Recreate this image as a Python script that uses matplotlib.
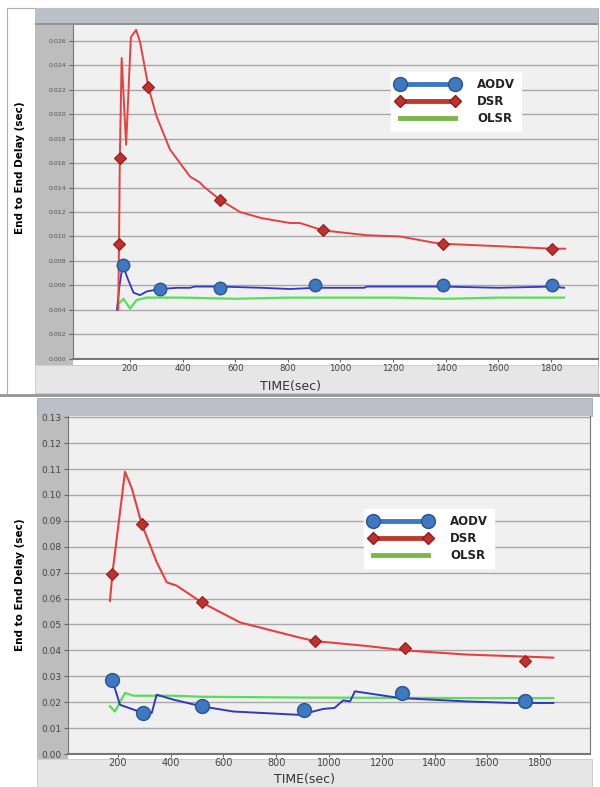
import matplotlib.pyplot as plt
import numpy as np
from matplotlib.patches import Rectangle
from matplotlib.lines import Line2D

# ---- top chart data (time in sec, delay in sec) ----
aodv_t1 = [150, 160, 172, 190, 213, 238, 263, 314, 380, 428, 445, 542, 700, 808, 903, 1000, 1090, 1100, 1391, 1600, 1803, 1850]
aodv_v1 = [0.0040, 0.0060, 0.0077, 0.0066, 0.0054, 0.0052, 0.0055, 0.0057, 0.0058, 0.0058, 0.0059, 0.0059, 0.0058, 0.0057, 0.0058, 0.0058, 0.0058, 0.0059, 0.0059, 0.0058, 0.0059, 0.0058]
aodv_mt1 = [172, 314, 542, 903, 1391, 1803]
aodv_mv1 = [0.0077, 0.0057, 0.0058, 0.0060, 0.0060, 0.0060]

dsr_t1 = [155, 158, 161, 168, 185, 203, 223, 238, 270, 301, 352, 428, 466, 479, 542, 618, 700, 808, 846, 933, 1100, 1226, 1353, 1391, 1606, 1803, 1854]
dsr_v1 = [0.0040, 0.0094, 0.0164, 0.0246, 0.0175, 0.0263, 0.0269, 0.0259, 0.0222, 0.0198, 0.0171, 0.0149, 0.0144, 0.0141, 0.0130, 0.0120, 0.0115, 0.0111, 0.0111, 0.0105, 0.0101, 0.0100, 0.0095, 0.0094, 0.0092, 0.0090, 0.0090]
dsr_mt1 = [158, 161, 270, 542, 933, 1391, 1803]
dsr_mv1 = [0.0094, 0.0164, 0.0222, 0.0130, 0.0105, 0.0094, 0.0090]

olsr_t1 = [156, 175, 200, 225, 263, 400, 600, 800, 1000, 1200, 1400, 1600, 1850]
olsr_v1 = [0.0045, 0.0049, 0.0041, 0.0048, 0.0050, 0.0050, 0.0049, 0.0050, 0.0050, 0.0050, 0.0049, 0.0050, 0.0050]

# ---- bottom chart data ----
aodv_t2 = [179, 208, 297, 328, 347, 410, 518, 638, 890, 978, 1021, 1054, 1080, 1098, 1269, 1521, 1697, 1850]
aodv_v2 = [0.0285, 0.0190, 0.0158, 0.0158, 0.0229, 0.0210, 0.0184, 0.0164, 0.0151, 0.0174, 0.0178, 0.0207, 0.0203, 0.0242, 0.0216, 0.0203, 0.0197, 0.0197]
aodv_mt2 = [179, 297, 518, 905, 1278, 1742]
aodv_mv2 = [0.0285, 0.0158, 0.0184, 0.0171, 0.0236, 0.0203]

dsr_t2 = [170, 179, 227, 253, 290, 347, 385, 423, 461, 518, 663, 890, 947, 1143, 1288, 1521, 1742, 1850]
dsr_v2 = [0.0591, 0.0695, 0.1090, 0.1025, 0.0889, 0.0741, 0.0663, 0.0650, 0.0624, 0.0585, 0.0508, 0.0449, 0.0436, 0.0417, 0.0400, 0.0384, 0.0376, 0.0372]
dsr_mt2 = [179, 290, 518, 947, 1288, 1742]
dsr_mv2 = [0.0695, 0.0889, 0.0585, 0.0436, 0.0410, 0.0358]

olsr_t2 = [170, 189, 227, 259, 410, 518, 890, 1200, 1500, 1850]
olsr_v2 = [0.0184, 0.0164, 0.0236, 0.0225, 0.0225, 0.0221, 0.0218, 0.0217, 0.0216, 0.0216]

x_ticks = [200, 400, 600, 800, 1000, 1200, 1400, 1600, 1800]

W, H = 600, 787
fig = plt.figure(figsize=(6, 7.87), dpi=100)


def box(x, y, w, h, color, ec='none', lw=0, z=0):
    # rectangle given in pixels from the top-left corner
    fig.add_artist(Rectangle((x / W, 1 - (y + h) / H), w / W, h / H, transform=fig.transFigure,
                             facecolor=color, edgecolor=ec, linewidth=lw, zorder=z))


# top panel frame
box(7, 8, 591, 387, 'white', ec='#b0b0b0', lw=0.8)
box(35, 8, 563, 17, '#bcc0c7')
box(35, 23, 563, 2, '#8e939b')
box(35, 25, 38, 340, '#bdbdbd')
box(35, 365, 563, 28, '#e6e6e6', ec='#c8c8c8', lw=0.6)
box(0, 394, 600, 3, '#9a9a9a')
# bottom panel frame
box(37, 398, 555, 18, '#bcc0c6', ec='#9aa8c0', lw=0.6)
box(37, 416, 31, 343, '#bdbdbd')
box(37, 759, 555, 28, '#e6e6e6', ec='#c8c8c8', lw=0.6)

ax1 = fig.add_axes([73 / W, 1 - 358.7 / H, 525 / W, 333.7 / H])
ax2 = fig.add_axes([68 / W, 1 - 754 / H, 522 / W, 338 / H])

blue_line = '#3535c8'
blue_mark = '#3f78c0'
red_line = '#e84040'
red_mark = '#c0302c'
green_line = '#55e055'

ax1.plot(olsr_t1, olsr_v1, color=green_line, lw=1.6, zorder=3)
ax1.plot(aodv_t1, aodv_v1, color=blue_line, lw=1.3, zorder=4)
ax1.plot(dsr_t1, dsr_v1, color=red_line, lw=1.4, zorder=4)
ax1.plot(aodv_mt1, aodv_mv1, 'o', ms=9, color=blue_mark, mec='#2a5590', mew=1, zorder=5)
ax1.plot(dsr_mt1, dsr_mv1, 'D', ms=6, color=red_mark, mec='#8e1e1e', mew=0.8, zorder=5)

ax2.plot(olsr_t2, olsr_v2, color=green_line, lw=1.6, zorder=3)
ax2.plot(aodv_t2, aodv_v2, color=blue_line, lw=1.4, zorder=4)
ax2.plot(dsr_t2, dsr_v2, color=red_line, lw=1.5, zorder=4)
ax2.plot(aodv_mt2, aodv_mv2, 'o', ms=10, color=blue_mark, mec='#2a5590', mew=1, zorder=5)
ax2.plot(dsr_mt2, dsr_mv2, 'D', ms=6.5, color=red_mark, mec='#8e1e1e', mew=0.8, zorder=5)

ax1.set_xlim(-17, 1979)
ax1.set_ylim(0, 0.0273)
ax1.set_yticks(np.arange(0, 0.0261, 0.002))
ax1.set_yticklabels(['%.3f' % v for v in np.arange(0, 0.0261, 0.002)], fontsize=4.5, color='#555555')

ax2.set_xlim(11, 1989)
ax2.set_ylim(0, 0.1305)
ax2.set_yticks(np.arange(0, 0.131, 0.01))
ax2.set_yticklabels(['%.2f' % v for v in np.arange(0, 0.131, 0.01)], fontsize=6.5, color='#444444')

for ax, fs, pad in [(ax1, 6.3, 1.5), (ax2, 7, 0.5)]:
    ax.set_facecolor('#f0f0f0')
    ax.set_xticks(x_ticks)
    ax.set_xticklabels([str(t) for t in x_ticks], fontsize=fs, color='#444444')
    ax.tick_params(axis='x', length=2.5, pad=pad, color='#666666')
    ax.tick_params(axis='y', length=3, pad=2, color='#666666')
    ax.grid(axis='y', color='#a8a8a8', lw=1)
    ax.set_axisbelow(True)
    ax.spines['top'].set_visible(False)
    ax.spines['left'].set_color('#777777')
    ax.spines['bottom'].set_color('#777777')
    ax.spines['bottom'].set_linewidth(1.5)
ax1.spines['right'].set_visible(False)
ax2.spines['right'].set_color('#777777')

fig.text(290 / W, 1 - 386 / H, 'TIME(sec)', fontsize=9, color='#333333', ha='center', va='center')
fig.text(305 / W, 1 - 780 / H, 'TIME(sec)', fontsize=9, color='#333333', ha='center', va='center')
fig.text(20 / W, 1 - 168 / H, 'End to End Delay (sec)', fontsize=7.5, fontweight='bold',
         rotation=90, ha='center', va='center')
fig.text(20 / W, 1 - 585 / H, 'End to End Delay (sec)', fontsize=7.5, fontweight='bold',
         rotation=90, ha='center', va='center')

handles = [
    Line2D([0], [0], color=blue_mark, lw=3.5, marker='o', ms=10, mec='#2a5590', mfc=blue_mark),
    Line2D([0], [0], color='#c0392b', lw=3.5, marker='D', ms=6, mec='#8e1e1e', mfc=red_mark),
    Line2D([0], [0], color='#7ab648', lw=3.5),
]
names = ['AODV', 'DSR', 'OLSR']
for ax, (lx, ly) in [(ax1, (385, 66)), (ax2, (358, 503))]:
    leg = ax.legend(handles, names, numpoints=2, handlelength=5.2, handletextpad=1.6,
                    labelspacing=0.35, fontsize=8.5, frameon=True, fancybox=False,
                    loc='upper left', bbox_to_anchor=(lx / W, 1 - ly / H),
                    bbox_transform=fig.transFigure, borderpad=0.5)
    leg.get_frame().set_facecolor('white')
    leg.get_frame().set_edgecolor('white')
    leg.get_frame().set_alpha(1)
    for txt in leg.get_texts():
        txt.set_fontweight('bold')
        txt.set_color('#222222')

fig.savefig('out.png', dpi=100)
